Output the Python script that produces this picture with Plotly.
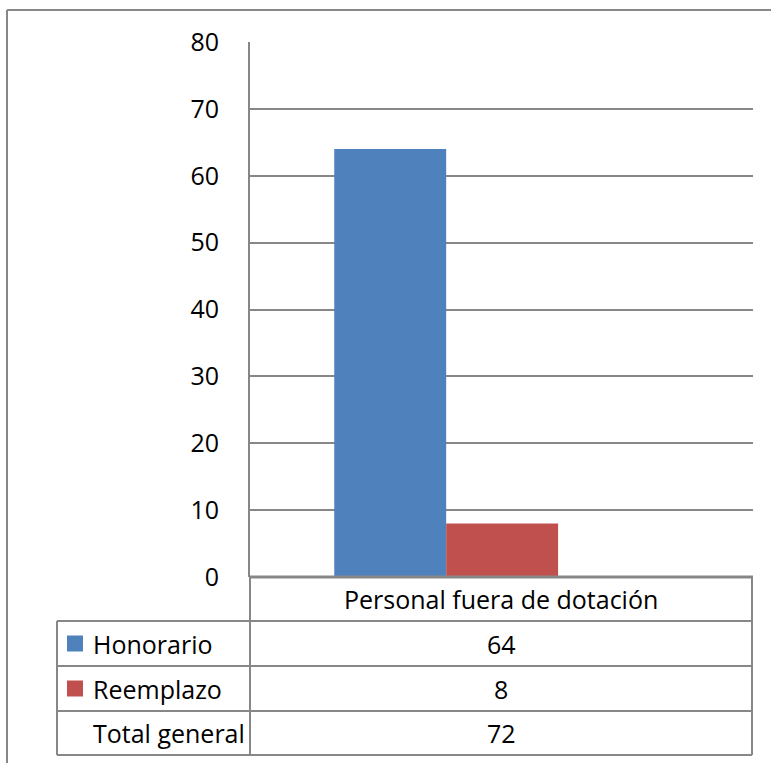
import plotly.graph_objects as go

categories = ["Personal fuera de dotación"]
series_names = ["Honorario", "Reemplazo"]
honorario = [64]
reemplazo = [8]
total_label = "Total general"
total = [72]
y_ticks = [0, 10, 20, 30, 40, 50, 60, 70, 80]
colors = ["#4F81BD", "#C0504D"]

W, H = 771, 763
FONT = "Open Sans"
FS = 25
GRAY = "#878787"

def X(px):
    return px / W

def Y(py):
    return 1 - py / H

fig = go.Figure()
for name, vals, col in zip(series_names, [honorario, reemplazo], colors):
    fig.add_trace(go.Bar(x=[0], y=vals, name=name, marker=dict(color=col, line=dict(width=0)),
                         showlegend=False, hoverinfo="skip"))

fig.update_layout(
    width=W, height=H, autosize=False,
    margin=dict(l=0, r=0, t=0, b=0, pad=0),
    paper_bgcolor="white", plot_bgcolor="white",
    barmode="group", bargap=0.555, bargroupgap=0,
    font=dict(family=FONT, size=FS, color="black"),
    xaxis=dict(domain=[X(250), X(753)], range=[-0.39, 0.61], showticklabels=False,
               showgrid=False, zeroline=False, showline=False, fixedrange=True,
               automargin=False),
    yaxis=dict(domain=[Y(577), Y(42)], range=[0, 80], tickvals=y_ticks,
               showgrid=True, gridcolor=GRAY, gridwidth=2, zeroline=False,
               showline=True, linecolor=GRAY, linewidth=2, ticks="", automargin=False,
               ticklabelstandoff=24, tickfont=dict(family=FONT, size=FS, color="black")),
)

shapes = []
def line(x0, y0, x1, y1, w=2):
    shapes.append(dict(type="line", xref="paper", yref="paper", x0=X(x0), y0=Y(y0),
                       x1=X(x1), y1=Y(y1), line=dict(color=GRAY, width=w)))

# outer chart border (cropped on right and bottom)
line(7, 10, 771, 10)
line(7, 10, 7, 763)
# x axis line / table top
line(250, 577, 753, 577, 3)
# table
for yy in [621, 666, 711, 755]:
    line(57, yy, 752, yy)
line(250, 577, 250, 755)
line(752, 577, 752, 755)
line(57, 621, 57, 755)

# legend keys
row_centers = [643.5, 688.5]
for col, yc in zip(colors, row_centers):
    shapes.append(dict(type="rect", xref="paper", yref="paper", x0=X(67), x1=X(83),
                       y0=Y(yc + 8), y1=Y(yc - 8), fillcolor=col, line=dict(width=0)))
fig.update_layout(shapes=shapes)

ann = []
ann.append(dict(x=X(501), y=Y(599), text=categories[0]))
labels = series_names + [total_label]
values = [honorario[0], reemplazo[0], total[0]]
for lab, val, yc in zip(labels, values, [643.5, 688.5, 733]):
    ann.append(dict(x=X(91), y=Y(yc), text=lab, xanchor="left"))
    ann.append(dict(x=X(501), y=Y(yc), text=str(val)))
for a in ann:
    a.update(xref="paper", yref="paper", showarrow=False, yanchor="middle",
             font=dict(family=FONT, size=FS, color="black"))
    a.setdefault("xanchor", "center")
fig.update_layout(annotations=ann)

fig.write_html("out.html", config={"responsive": False, "displayModeBar": False},
               post_script="document.body.style.margin='0';")
